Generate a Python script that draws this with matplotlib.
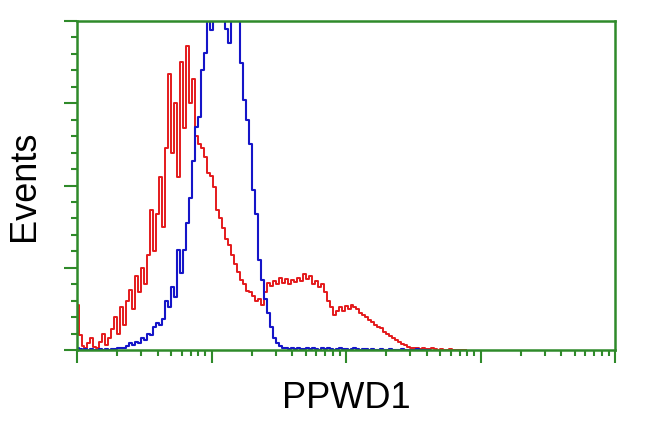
import numpy as np
import matplotlib
matplotlib.use("Agg")
import matplotlib.pyplot as plt
from matplotlib.ticker import LogLocator, MultipleLocator, NullFormatter

# Histogram counts per log channel (45 channels per decade, starting at 10^0)
red_counts = [55, 18, 5, 2, 8, 15, 4, 3, 10, 20, 6, 14, 25, 40, 20, 52, 30, 60, 73, 50,
              90, 70, 100, 80, 115, 170, 120, 165, 210, 150, 245, 335, 240, 300, 210, 350,
              270, 370, 300, 330, 260, 250, 245, 235, 215, 212, 198, 170, 160, 148, 135,
              128, 115, 105, 95, 85, 80, 72, 70, 66, 60, 62, 55, 70, 82, 78, 84, 80, 88,
              82, 86, 80, 85, 83, 88, 84, 92, 86, 90, 80, 84, 76, 80, 70, 60, 52, 42, 48,
              52, 48, 54, 50, 55, 52, 50, 45, 42, 40, 36, 34, 30, 28, 27, 22, 20, 17, 15,
              12, 10, 7, 6, 4, 3, 2, 3, 1, 2, 1, 1, 2, 1, 0, 1, 0, 0, 1, 0, 0, 0, 0, 0]
blue_counts = [3, 1, 0, 1, 0, 1, 0, 0, 1, 0, 1, 0, 1, 1, 2, 3, 2, 5, 8, 6,
               10, 8, 15, 12, 20, 18, 28, 33, 30, 38, 60, 52, 77, 64, 122, 94, 122, 154,
               185, 230, 271, 283, 340, 361, 420, 389, 430, 440, 450, 430, 390, 373, 420,
               430, 410, 349, 304, 280, 250, 195, 165, 109, 85, 62, 45, 28, 15, 8, 5, 3,
               2, 1, 2, 1, 2, 1, 1, 2, 1, 2, 1, 0, 2, 1, 2, 1, 0, 1, 2, 1, 1, 0, 1, 2, 1,
               0, 1, 1, 0, 1, 0, 0, 1, 0, 0, 1, 0, 0, 0, 1, 0, 0, 0, 0, 1, 0, 0, 0, 0]
channels_per_decade = 45
x_label = "PPWD1"
y_label = "Events"

red_x = 10 ** (np.arange(len(red_counts)) / channels_per_decade)
blue_x = 10 ** (np.arange(len(blue_counts)) / channels_per_decade)

green = "#2f8a2a"
fig = plt.figure(figsize=(6.5, 4.32), dpi=100)
ax = fig.add_axes([77 / 650, 82 / 432, 538 / 650, 329 / 432])

ax.plot(red_x, red_counts, drawstyle="steps-mid", color="#e41a1c", lw=1.4)
ax.plot(blue_x, blue_counts, drawstyle="steps-mid", color="#1515c8", lw=1.5)

ax.set_xscale("log")
ax.set_xlim(1, 1e4)
ax.set_ylim(0, 400)
ax.xaxis.set_major_locator(LogLocator(base=10, numticks=10))
ax.xaxis.set_minor_locator(LogLocator(base=10, subs=np.arange(2, 10), numticks=100))
ax.xaxis.set_major_formatter(NullFormatter())
ax.xaxis.set_minor_formatter(NullFormatter())
ax.yaxis.set_major_locator(MultipleLocator(100))
ax.yaxis.set_minor_locator(MultipleLocator(20))
ax.yaxis.set_major_formatter(NullFormatter())

for s in ax.spines.values():
    s.set_color(green)
    s.set_linewidth(1.8)
ax.tick_params(which="major", direction="out", length=9.5, width=1.5, color=green)
ax.tick_params(which="minor", direction="out", length=4, width=1.5, color=green)

ax.set_xlabel(x_label, fontsize=26, family="Liberation Sans", labelpad=9)
ax.set_ylabel(y_label, fontsize=26, family="Liberation Sans", labelpad=12)

fig.savefig("out.png", dpi=100)
